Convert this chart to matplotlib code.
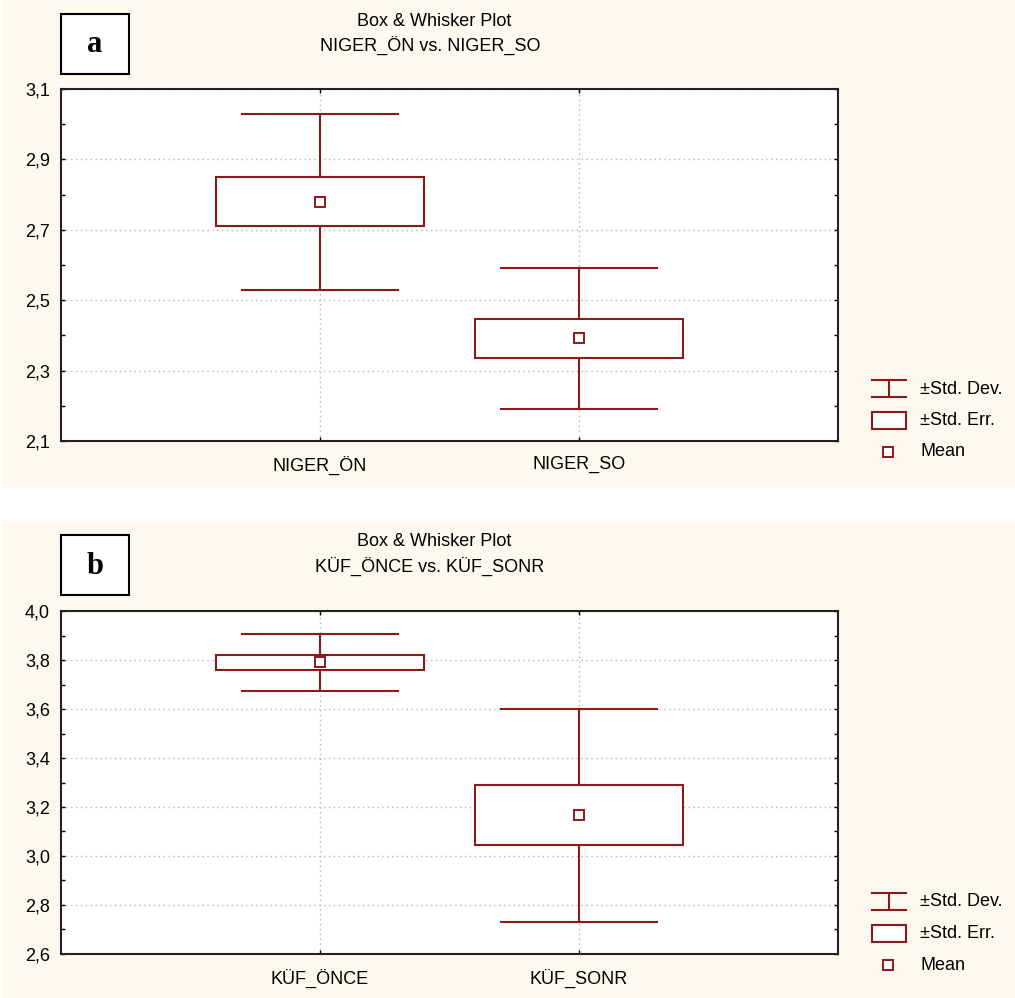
import numpy as np
import matplotlib
matplotlib.use("Agg")
import matplotlib.pyplot as plt
from matplotlib.patches import Rectangle
from matplotlib.lines import Line2D

# --- data ---
names_a = ["NIGER_ÖN", "NIGER_SO"]
mean_a = [2.78, 2.392]
se_a = [0.07, 0.056]
sd_a = [0.25, 0.20]

names_b = ["KÜF_ÖNCE", "KÜF_SONR"]
mean_b = [3.79, 3.167]
se_b = [0.03, 0.123]
sd_b = [0.115, 0.435]

legend_labels = ["±Std. Dev.", "±Std. Err.", "Mean"]

# --- style ---
W, H = 1015, 998
RED = "#8b1a1a"
CREAM = "#fdf9ee"
FONT = "Liberation Sans"
FS = 13
BOX_W = 0.8
CAP_W = 0.6
LW = 1.5

plt.rcParams["font.family"] = [FONT, "DejaVu Sans"]
fig = plt.figure(figsize=(W / 100, H / 100), dpi=100)


def fx(px):
    return px / W


def fy(py):
    return 1 - py / H


def comma(v, _pos=None):
    return f"{v:.1f}".replace(".", ",")


def panel(top, ax_top, ax_bot, cream_bot, label, names, means, se, sd, ylim):
    # cream background for the panel
    fig.patches.append(Rectangle((fx(2), fy(cream_bot)), fx(W - 2), (cream_bot - top) / H,
                                 transform=fig.transFigure, facecolor=CREAM, edgecolor="none", zorder=-10))
    ax = fig.add_axes([fx(61), fy(ax_bot), fx(838 - 61), (ax_bot - ax_top) / H])
    x = np.arange(1, len(names) + 1)
    for xi, m, e, s in zip(x, means, se, sd):
        ax.plot([xi, xi], [m - s, m - e], color=RED, lw=LW, zorder=3)
        ax.plot([xi, xi], [m + e, m + s], color=RED, lw=LW, zorder=3)
        ax.plot([xi - CAP_W / 2, xi + CAP_W / 2], [m + s, m + s], color=RED, lw=LW, zorder=3)
        ax.plot([xi - CAP_W / 2, xi + CAP_W / 2], [m - s, m - s], color=RED, lw=LW, zorder=3)
        ax.add_patch(Rectangle((xi - BOX_W / 2, m - e), BOX_W, 2 * e, facecolor="white",
                               edgecolor=RED, lw=LW, zorder=3))
        ax.plot(xi, m, "s", ms=6.5, mfc="white", mec=RED, mew=1.4, zorder=4)

    ax.set_xlim(0, len(names) + 1)
    ax.set_ylim(*ylim)
    ax.set_xticks(x)
    ax.set_xticklabels(names)
    ax.set_yticks(np.arange(ylim[0], ylim[1] + 0.001, 0.2))
    ax.set_yticks(np.arange(ylim[0] + 0.1, ylim[1], 0.2), minor=True)
    ax.yaxis.set_major_formatter(comma)
    ax.tick_params(direction="in", length=3, width=1, labelsize=FS, top=True, right=True,
                   colors="black")
    ax.tick_params(axis="x", pad=11)
    ax.tick_params(axis="y", pad=8)
    ax.tick_params(which="minor", direction="in", length=3, width=1, right=True)
    ax.grid(True, which="major", color="#b4b4b4", ls=(0, (1, 2.5)), lw=1)
    for sp in ax.spines.values():
        sp.set_linewidth(1.5)
        sp.set_color("#222222")
    ax.set_facecolor("white")

    # titles and panel letter box
    fig.text(fx(434), fy(top + 21), "Box & Whisker Plot", ha="center", va="center", fontsize=FS)
    fig.text(fx(430), fy(top + 45), f"{names[0]} vs. {names[1]}", ha="center", va="center", fontsize=FS)
    fig.patches.append(Rectangle((fx(61), fy(top + 74)), fx(68), 60 / H, transform=fig.transFigure,
                                 facecolor="white", edgecolor="black", lw=1.5))
    fig.text(fx(95), fy(top + 45), label, ha="center", va="center", fontsize=22,
             fontweight="bold", family="Liberation Serif")

    # legend, placed relative to the axes bottom
    y0 = ax_bot - 53
    xl, xr = fx(872), fx(906)
    fig.add_artist(Line2D([xl, xr], [fy(y0 - 8)] * 2, color=RED, lw=LW, transform=fig.transFigure))
    fig.add_artist(Line2D([fx(889)] * 2, [fy(y0 - 8), fy(y0 + 9)], color=RED, lw=LW, transform=fig.transFigure))
    fig.add_artist(Line2D([xl, xr], [fy(y0 + 9)] * 2, color=RED, lw=LW, transform=fig.transFigure))
    fig.patches.append(Rectangle((xl, fy(y0 + 41)), xr - xl, 17 / H, transform=fig.transFigure,
                                 facecolor="white", edgecolor=RED, lw=LW))
    fig.add_artist(Line2D([fx(888)], [fy(y0 + 64)], marker="s", ms=6.5, mfc="white", mec=RED,
                          mew=1.4, transform=fig.transFigure))
    for i, lab in enumerate(legend_labels):
        fig.text(fx(920), fy(y0 + 1 + i * 31.5), lab, ha="left", va="center", fontsize=FS)


panel(0, 89, 441, 488, "a", names_a, mean_a, se_a, sd_a, (2.1, 3.1))
panel(521, 611, 954, 998, "b", names_b, mean_b, se_b, sd_b, (2.6, 4.0))

fig.savefig("out.png", dpi=100, facecolor="white")
